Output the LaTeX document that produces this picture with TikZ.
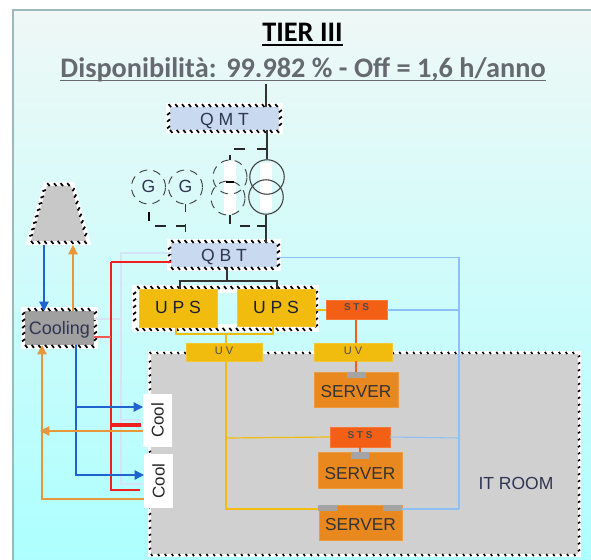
\documentclass[tikz,border=0pt]{standalone}
\usepackage{fontspec}
\setmainfont{Liberation Sans}
\newfontfamily\titlefont{Carlito}
\usetikzlibrary{arrows.meta,shapes.geometric,decorations.pathreplacing,calc}
\definecolor{bgtop}{HTML}{EFF8F6}
\definecolor{bgbot}{HTML}{ADFFFF}
\definecolor{frameC}{HTML}{9DB8B8}
\definecolor{boxblue}{HTML}{C9DAF0}
\definecolor{ups}{HTML}{F2BC0F}
\definecolor{sts}{HTML}{F35F14}
\definecolor{srv}{HTML}{E8881E}
\definecolor{cap}{HTML}{A4A4A4}
\definecolor{room}{HTML}{D0D0D0}
\definecolor{cool}{HTML}{A0A0A0}
\definecolor{tower}{HTML}{C8C8C8}
\definecolor{lnblue}{HTML}{8DC0F5}
\definecolor{cblue}{HTML}{1F63D0}
\definecolor{corange}{HTML}{E8963A}
\definecolor{cred}{HTML}{F01E1E}
\definecolor{pale}{HTML}{D5E4F5}
\definecolor{txt}{HTML}{2F3552}
\definecolor{subt}{HTML}{666A70}
\newcommand{\pxfont}[1]{\fontsize{\dimexpr#1pt*3/4\relax}{\dimexpr#1pt*9/10\relax}\selectfont}
\tikzset{
  sz/.style 2 args={minimum width=#1*0.75pt,minimum height=#2*0.75pt,inner sep=0pt,outer sep=0pt},
  base/.style={text height=#1*0.75pt,text depth=0pt},
  hatchbox/.style={
    preaction={draw=white,line width=6pt},
    postaction={decorate,draw=black,line width=1.3pt,
      decoration={border,mirror,segment length=5pt,amplitude=2.8pt,angle=50}}},
  hatchfine/.style={
    preaction={draw=white,line width=4pt},
    postaction={decorate,draw=black,line width=1.2pt,
      decoration={border,mirror,segment length=5.2pt,amplitude=1.9pt,angle=55}}},
  lbl/.style={text=txt,font=\pxfont{17.6}},
  solidbox/.style={fill=#1,draw=#1!85!white,line width=.4pt},
  srvbox/.style={solidbox=srv,text=black!80,font=\pxfont{17.3}},
  stsbox/.style={solidbox=sts,text=black!70,font=\bfseries\pxfont{10}},
  uvbox/.style={solidbox=ups,text=black!70,font=\pxfont{11}},
  upsbox/.style={solidbox=ups,text=txt!60!black,font=\pxfont{17.6}},
  dline/.style={draw=black!80,line width=.8pt},
  dashline/.style={draw=black!85,line width=.9pt},
  dashcirc/.style={draw=black!75,line width=.7pt,dash pattern=on 6pt off 4.5pt},
  flow/.style={line width=.95pt},
  tip/.style={-{Triangle[length=7pt,width=7pt]}},
}
\begin{document}
\begin{tikzpicture}[x=0.75pt,y=-0.75pt]
\useasboundingbox (0,0) rectangle (591,559);
\clip (0,0) rectangle (591,559);
\fill[white] (0,0) rectangle (591,559);
\shade[top color=bgtop,bottom color=bgbot] (13,10) rectangle (600,559);
\draw[frameC,line width=1pt] (13,565) -- (13,10) -- (600,10);

% titles
\node[inner sep=0,base=17,text=black] (title) at (302.5,33.2) {\titlefont\bfseries\pxfont{28.3}TIER III};
\node[inner sep=0,base=17,text=subt] (subtitle) at (303,68.8) {\titlefont\bfseries\pxfont{28.3}Disponibilità:\ \kern2.5pt 99.982 \% - Off = 1,6 h/anno};
\draw[black,line width=1pt] (title.west |- 0,45) -- (title.east |- 0,45);
\draw[subt,line width=1pt] (subtitle.west |- 0,80.3) -- (subtitle.east |- 0,80.3);

% IT room
\node[hatchfine,fill=room,sz={427}{200}] (room) at (364.5,454) {};
\node[text=txt,font=\pxfont{17.5},inner sep=0,base=12.6] (roomlbl) at (516,483) {IT ROOM};

% main boards
\node[hatchbox,fill=boxblue,sz={109}{23},lbl,base=14.4] (qmt) at (224.5,118.5) {Q M T};
\node[hatchbox,fill=boxblue,sz={106}{24},lbl,base=13.4] (qbt) at (224,255) {Q B T};
\node[hatchbox,sz={179}{39}] (upsgrp) at (225.5,308.5) {};
\node[hatchbox,fill=cool,sz={69}{34},lbl,font=\pxfont{18},base=12.6] (cooling) at (59.5,328) {Cooling};
\path[hatchbox,fill=tower] (31,241) -- (86,241) -- (71,186) -- (47,186) -- cycle;
\coordinate (towerS) at (58,245);

% transformers
\coordinate (feed) at (266,84);
\draw[dline] (feed) -- (feed |- qmt.north);
\fill[white] (260,163) rectangle (272,212);
\fill[white] (224,161) rectangle (236,214);
\node[circle,draw=black!75,line width=.8pt,minimum size=34.5*0.75pt,inner sep=0] (t1) at (267,177) {};
\node[circle,draw=black!75,line width=.8pt,minimum size=34.5*0.75pt,inner sep=0] (t2) at (266,197) {};
\node[circle,dashcirc,minimum size=34*0.75pt,inner sep=0] (d1) at (230,177) {};
\node[circle,dashcirc,minimum size=34*0.75pt,inner sep=0] (d2) at (228,198) {};
\node[circle,dashcirc,minimum size=34*0.75pt,inner sep=0,lbl,base=10.6] (g1) at (148.5,187) {G};
\node[circle,dashcirc,minimum size=34*0.75pt,inner sep=0,lbl,base=10.6] (g2) at (185.5,187) {G};
\draw[dline] (qmt.south -| t1) -- (t1.north);
\draw[dline] (t2.south) -- (t2.south |- qbt.north);
\draw[dashline] (266,149) -- (257,149) (245,149) -- (234,149) (230,155) -- (230,160);
\draw[dashline] (230,215) -- (230,224) (240,226) -- (250,226) (257,226) -- (266,226);
\fill[black] (226,181) rectangle (234,183.5);
\draw[draw=black,line width=1.5pt] (148.5,212) -- (148.5,221);
\draw[dashline] (155,226) -- (166,226) (176,226) -- (185.5,226);
\draw[dline] (g2.south) -- (185.5,212);
\draw[dline] (185.5,224) -- (185.5,232);

% UPS
\node[upsbox,sz={78}{38},base=10.6] (ups1) at (178,308) {U P S};
\node[upsbox,sz={78}{37},base=11.6] (ups2) at (276,307.5) {U P S};
\draw[dline] (qbt.south -| 227,0) -- (227,281);
\draw[dline] (ups1.north -| 180,0) -- (180,281) -- (277,281) -- (ups2.north -| 277,0);

% right side
\draw[lnblue,line width=.7pt] (qbt.east |- 0,257) -- (459,257);
\draw[lnblue,line width=1.6pt] (459,257) -- (459,509);
\node[stsbox,sz={61}{19},base=1] (sts1) at (356.5,310) {S T S};
\node[uvbox,sz={76}{18},base=4] (uv1) at (224,352) {U V};
\node[uvbox,sz={78}{18},base=4] (uv2) at (353,352) {U V};
\node[srvbox,sz={84}{35},base=14.6] (srv1) at (356,390) {SERVER};
\node[stsbox,sz={60}{20},base=2.6] (sts2) at (360,437) {S T S};
\node[srvbox,sz={84}{36},base=18.6] (srv2) at (360,470) {SERVER};
\node[srvbox,sz={83}{35},base=14] (srv3) at (360.5,523) {SERVER};
\node[fill=cap,sz={19}{6}] (cap1) at (356.5,375) {};
\node[fill=cap,sz={18}{7}] (cap2) at (360,455.5) {};
\node[fill=cap,sz={19}{6}] (cap3) at (327.5,508) {};
\node[fill=cap,sz={19}{6}] (cap4) at (392.5,508) {};

\draw[lnblue,line width=.8pt] (sts1.east) -- (459,310);
\draw[lnblue,line width=.8pt] (sts2.east) -- (459,438);
\draw[lnblue,line width=.8pt] (cap4.east |- 0,509) -- (459,509);
\draw[ups,line width=.8pt] (upsgrp.east |- sts1.west) -- (sts1.west);
\draw[sts,line width=.8pt] (sts1.south -| 356,0) -- (uv2.north -| 356,0);
\draw[sts,line width=.8pt] (uv2.south -| 356,0) -- (cap1.north -| 356,0);
\draw[sts,line width=.8pt] (sts2.south) -- (cap2.north);

% yellow lines
\draw[ups,line width=.8pt] (ups1.south -| 176,0) -- (176,334) -- (273,334) -- (ups2.south -| 273,0);
\draw[ups,line width=.8pt] (226,334) -- (uv1.north -| 226,0);
\draw[ups,line width=1.2pt] (uv1.south -| 226,0) -- (226,509) -- (cap3.west |- 0,509);
\draw[ups,line width=.9pt] (226,438) -- (sts2.west);

% pale lines
\draw[pale,line width=.8pt] (qbt.west |- 0,253) -- (121,253) -- (121,484) -- (143,484);
\draw[pale,line width=.8pt] (121,420) -- (141,420);
\draw[pale,line width=.8pt] (cooling.east |- 0,319) -- (121,319);

% red lines
\draw[cred,line width=1.1pt] (111,262) -- (111,490) -- (140,490);
\draw[cred,line width=1.8pt] (qbt.west |- 0,262) -- (111,262);
\draw[cred!75!white,line width=.9pt] (cooling.east |- 0,337) -- (111,337);
\draw[cred,line width=2.4pt] (111,425) -- (141,425);

% cooling water
\node[fill=white,sz={29}{53}] (cool1) at (157.5,420.5) {\rotatebox{90}{\color{black!85}\pxfont{17}Cool}};
\node[fill=white,sz={29}{54}] (cool2) at (158.5,481) {\rotatebox{90}{\color{black!85}\pxfont{17}Cool}};

\draw[cblue,flow,tip] (towerS -| 44,0) -- (cooling.north -| 44,0);
\draw[corange,flow,tip] (cooling.north -| 73,0) -- (towerS -| 73,0);
\draw[cblue,flow,tip] (cooling.south -| 76,0) -- (76,407) -- (cool1.west |- 0,407);
\draw[cblue,flow,tip] (76,407) -- (76,475) -- (cool2.west |- 0,475);
\draw[corange,flow,tip] (cool1.west |- 0,431) -- (40,431);
\draw[corange,flow,tip] (cool2.west |- 0,499) -- (42,499) -- (cooling.south -| 42,0);
\end{tikzpicture}
\end{document}
